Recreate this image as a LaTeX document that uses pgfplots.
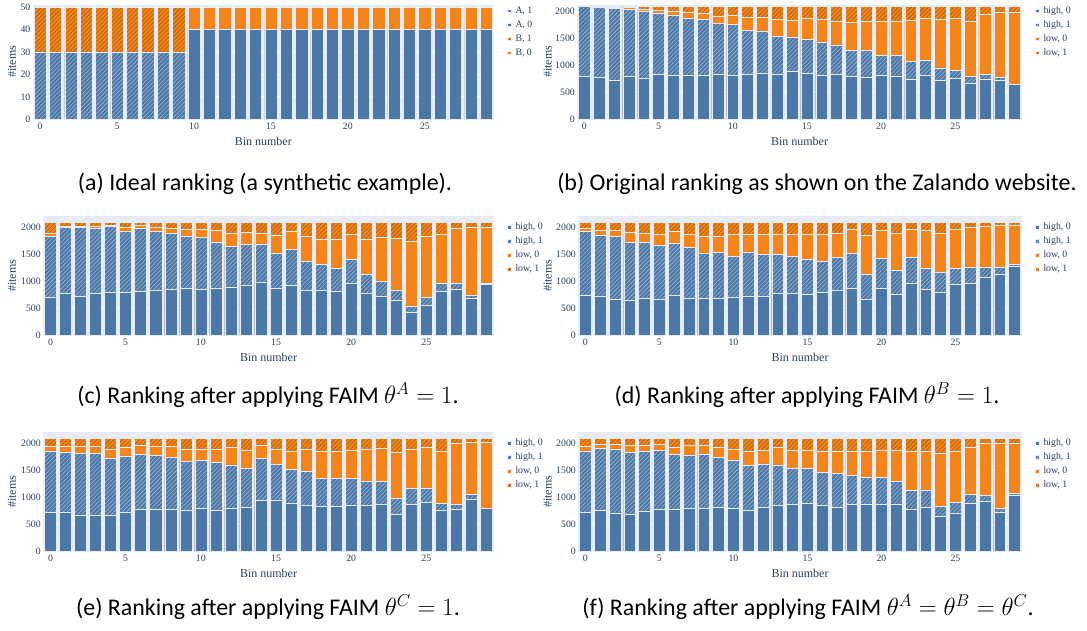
\documentclass[border=0pt]{standalone}
\usepackage{fontspec}
\setmainfont{Liberation Serif}
\newfontfamily\capfont{Carlito}
\usepackage{pgfplots}
\pgfplotsset{compat=1.18}
\usepackage{pgfplotstable}
\usetikzlibrary{patterns.meta}
\definecolor{blueC}{HTML}{4C78A8}
\definecolor{orangeC}{HTML}{F58518}
\definecolor{bgC}{HTML}{E5ECF6}
\definecolor{txtC}{HTML}{2A3F5F}
\colorlet{blueH}{white!40!blueC}
\colorlet{orangeH}{orangeC!72!black}

% columns: bin, high-0 top, high-1 top, low-0 top, total (low-1 top)
\pgfplotstableread{
x h0 c1 c2 tot
0 789 2090 2090 2090
1 776 2074 2078 2090
2 720 2055 2068 2090
3 795 2030 2068 2090
4 758 1993 2030 2090
5 832 1956 2025 2090
6 813 1925 1993 2090
7 820 1875 1975 2090
8 813 1851 1969 2090
9 832 1770 1913 2090
10 813 1751 1925 2090
11 832 1652 1882 2090
12 851 1639 1882 2090
13 832 1540 1844 2090
14 882 1528 1826 2090
15 851 1484 1863 2090
16 813 1435 1844 2090
17 832 1379 1820 2090
18 795 1279 1788 2090
19 782 1279 1820 2090
20 807 1180 1807 2090
21 795 1186 1807 2090
22 739 1068 1826 2090
23 813 1087 1863 2090
24 720 950 1844 2090
25 758 900 1863 2090
26 664 789 1820 2090
27 739 826 1938 2090
28 727 776 1981 2090
29 646 650 1981 2090
}\dataB

\pgfplotstableread{
x h0 c1 c2 tot
0 695 1828 1890 2090
1 769 2000 2020 2090
2 714 2000 2020 2090
3 769 1988 2020 2090
4 788 2012 2030 2090
5 800 1926 2000 2090
6 818 1982 2030 2090
7 837 1920 2000 2090
8 855 1889 1982 2090
9 862 1840 1957 2090
10 843 1815 1957 2090
11 874 1729 1938 2090
12 880 1655 1883 2090
13 923 1686 1908 2090
14 972 1692 1895 2090
15 862 1508 1846 2090
16 917 1582 1920 2090
17 825 1378 1828 2090
18 825 1311 1785 2090
19 806 1243 1785 2090
20 954 1403 1865 2090
21 769 1126 1785 2090
22 714 997 1809 2090
23 640 825 1797 2090
24 418 542 1735 2090
25 548 695 1828 2090
26 806 954 1865 2090
27 855 960 1982 2090
28 677 732 2000 2090
29 942 960 2000 2090
}\dataC

\pgfplotstableread{
x h0 c1 c2 tot
0 738 1920 1982 2090
1 714 1846 1938 2090
2 671 1828 1938 2090
3 640 1723 1908 2090
4 677 1723 1895 2090
5 658 1674 1865 2090
6 738 1705 1920 2090
7 689 1631 1865 2090
8 677 1526 1828 2090
9 677 1539 1828 2090
10 695 1458 1865 2090
11 714 1532 1865 2090
12 714 1495 1865 2090
13 769 1502 1865 2090
14 782 1458 1865 2090
15 757 1409 1865 2090
16 788 1372 1865 2090
17 825 1434 1883 2090
18 862 1508 1957 2090
19 671 1138 1846 2090
20 862 1422 1938 2090
21 757 1200 1883 2090
22 960 1446 1957 2090
23 843 1231 1938 2090
24 794 1169 1883 2090
25 942 1231 1957 2090
26 966 1249 2000 2090
27 1065 1262 2018 2090
28 1120 1262 2031 2090
29 1274 1305 2031 2090
}\dataD

\pgfplotstableread{
x h0 c1 c2 tot
0 714 1858 1938 2090
1 714 1834 1938 2090
2 671 1815 1938 2090
3 671 1815 1938 2090
4 671 1723 1895 2090
5 714 1766 1920 2090
6 769 1797 1957 2090
7 769 1772 1938 2090
8 769 1742 1938 2090
9 751 1662 1895 2090
10 800 1680 1883 2090
11 757 1643 1895 2090
12 800 1600 1920 2090
13 806 1539 1877 2090
14 935 1723 1969 2090
15 935 1612 1895 2090
16 880 1520 1858 2090
17 855 1471 1895 2090
18 825 1354 1846 2090
19 837 1354 1858 2090
20 843 1342 1877 2090
21 855 1292 1895 2090
22 874 1286 1908 2090
23 677 972 1828 2090
24 874 1163 1895 2090
25 911 1157 1920 2090
26 751 892 1858 2090
27 769 862 2000 2090
28 954 1046 2012 2090
29 794 800 2012 2090
}\dataE

\pgfplotstableread{
x h0 c1 c2 tot
0 714 1858 1938 2090
1 751 1908 1982 2090
2 695 1895 1982 2090
3 689 1834 1957 2090
4 732 1846 1957 2090
5 769 1871 1982 2090
6 769 1797 1920 2090
7 788 1785 1957 2090
8 788 1803 1957 2090
9 812 1742 1920 2090
10 800 1692 1895 2090
11 751 1582 1846 2090
12 812 1618 1877 2090
13 843 1600 1920 2090
14 862 1539 1877 2090
15 880 1539 1877 2090
16 843 1465 1846 2090
17 818 1440 1858 2090
18 862 1403 1858 2090
19 862 1366 1858 2090
20 862 1366 1877 2090
21 874 1286 1877 2090
22 775 1132 1858 2090
23 812 1138 1858 2090
24 646 831 1822 2090
25 695 911 1858 2090
26 880 1058 1920 2090
27 917 1034 2000 2090
28 714 794 2000 2090
29 1034 1065 2000 2090
}\dataF

\pgfplotsset{
  sqlegend/.style={legend image code/.code={\path[##1] (0pt,-1.75pt) rectangle (3.5pt,1.75pt);}},
  barbase/.style={ybar, bar width=0.8, bar shift=0pt, draw=bgC, line width=0.5pt, sqlegend},
  hatchblue/.style={barbase, preaction={fill=blueC}, pattern={Lines[angle=45,distance=3pt,line width=0.75pt]}, pattern color=blueH},
  hatchorange/.style={barbase, preaction={fill=orangeC}, pattern={Lines[angle=45,distance=3pt,line width=0.75pt]}, pattern color=orangeH},
  solidblue/.style={barbase, fill=blueC},
  solidorange/.style={barbase, fill=orangeC},
  plotlyaxis/.style={
    scale only axis,
    anchor=south west,
    xmin=-0.5, xmax=29.5, ymin=0,
    axis background/.style={fill=bgC},
    axis line style={draw=none},
    ymajorgrids, grid style={white, line width=0.8pt},
    major tick length=0pt,
    xtick={0,5,10,15,20,25},
    tick label style={font=\fontsize{9.8}{10}\selectfont, text=txtC},
    /pgf/number format/assume math mode=true,
    /pgf/number format/1000 sep={},
    xticklabel style={anchor=north, inner sep=0pt, yshift=-3.8pt},
    yticklabel style={anchor=east, inner sep=0pt, xshift=-2pt},
    xlabel={Bin number},
    xlabel style={font=\fontsize{12}{14}\selectfont, text=txtC, at={(axis description cs:0.5,0)}, anchor=center, yshift=-22pt},
    ylabel={\#items},
    ylabel style={font=\fontsize{12}{14}\selectfont, text=txtC, anchor=center},
    legend cell align=left,
    reverse legend,
    legend style={draw=none, fill=none, inner sep=0pt, outer sep=0pt,
      at={(axis description cs:1,1)}, anchor=north west, xshift=13pt,
      font=\fontsize{9.8}{10}\selectfont, text=txtC,
      nodes={inner sep=0pt, text height=7pt, text depth=2pt},
      row sep=5pt,
      /tikz/every odd column/.append style={column sep=4.5pt}},
  },
  rowtop/.style={plotlyaxis, height=114.7pt, legend style={yshift=-1.8pt}},
  rowlow/.style={plotlyaxis, height=119pt, ymax=2200, ytick={0,500,1000,1500,2000}, legend style={yshift=-6.3pt}},
}

\newcommand{\fourbars}[1]{%
  \addplot[hatchorange] table[x=x,y=tot]{#1}; \addlegendentry{low, 1}
  \addplot[solidorange] table[x=x,y=c2]{#1}; \addlegendentry{low, 0}
  \addplot[hatchblue] table[x=x,y=c1]{#1}; \addlegendentry{high, 1}
  \addplot[solidblue] table[x=x,y=h0]{#1}; \addlegendentry{high, 0}
}

\begin{document}
\begin{tikzpicture}
\useasboundingbox (0pt,0pt) rectangle (1087pt,-630pt);

% (a)
\begin{axis}[rowtop, at={(32.5pt,-119.2pt)}, width=461.5pt, ymax=51.2, ytick={0,10,20,30,40,50},
  ylabel style={at={(axis description cs:-0.0444,0.5)}}]
  \addplot[solidorange] coordinates {(10,50) (11,50) (12,50) (13,50) (14,50) (15,50) (16,50) (17,50) (18,50) (19,50) (20,50) (21,50) (22,50) (23,50) (24,50) (25,50) (26,50) (27,50) (28,50) (29,50)}; \addlegendentry{B, 0}
  \addplot[hatchorange] coordinates {(0,50) (1,50) (2,50) (3,50) (4,50) (5,50) (6,50) (7,50) (8,50) (9,50)}; \addlegendentry{B, 1}
  \addplot[solidblue] coordinates {(10,40) (11,40) (12,40) (13,40) (14,40) (15,40) (16,40) (17,40) (18,40) (19,40) (20,40) (21,40) (22,40) (23,40) (24,40) (25,40) (26,40) (27,40) (28,40) (29,40)}; \addlegendentry{A, 0}
  \addplot[hatchblue] coordinates {(0,30) (1,30) (2,30) (3,30) (4,30) (5,30) (6,30) (7,30) (8,30) (9,30)}; \addlegendentry{A, 1}
\end{axis}

% (b)
\begin{axis}[rowtop, at={(577pt,-119.2pt)}, width=445pt, ymax=2126, ytick={0,500,1000,1500,2000},
  ylabel style={at={(axis description cs:-0.0658,0.5)}}]
  \fourbars{\dataB}
\end{axis}

% (c)
\begin{axis}[rowlow, at={(43pt,-335.3pt)}, width=451pt,
  ylabel style={at={(axis description cs:-0.0687,0.5)}}]
  \fourbars{\dataC}
\end{axis}

% (d)
\begin{axis}[rowlow, at={(578pt,-335.3pt)}, width=444pt,
  ylabel style={at={(axis description cs:-0.0682,0.5)}}]
  \fourbars{\dataD}
\end{axis}

% (e)
\begin{axis}[rowlow, at={(43pt,-551.3pt)}, width=451pt,
  ylabel style={at={(axis description cs:-0.0687,0.5)}}]
  \fourbars{\dataE}
\end{axis}

% (f)
\begin{axis}[rowlow, at={(578pt,-551.3pt)}, width=444pt,
  ylabel style={at={(axis description cs:-0.0682,0.5)}}]
  \fourbars{\dataF}
\end{axis}

\begin{scope}[every node/.style={anchor=base, inner sep=0pt, font=\capfont\fontsize{23.9}{28}\selectfont}]
\node at (265pt,-190.7pt) {(a) Ideal ranking (a synthetic example).};
\node at (817pt,-190.7pt) {(b) Original ranking as shown on the Zalando website.};
\node at (268pt,-403.2pt) {(c) Ranking after applying FAIM $\theta^{A}=1$.};
\node at (807pt,-403.2pt) {(d) Ranking after applying FAIM $\theta^{B}=1$.};
\node at (268pt,-615.7pt) {(e) Ranking after applying FAIM $\theta^{C}=1$.};
\node at (808pt,-615.7pt) {(f) Ranking after applying FAIM $\theta^{A}=\theta^{B}=\theta^{C}$.};
\end{scope}
\end{tikzpicture}
\end{document}
